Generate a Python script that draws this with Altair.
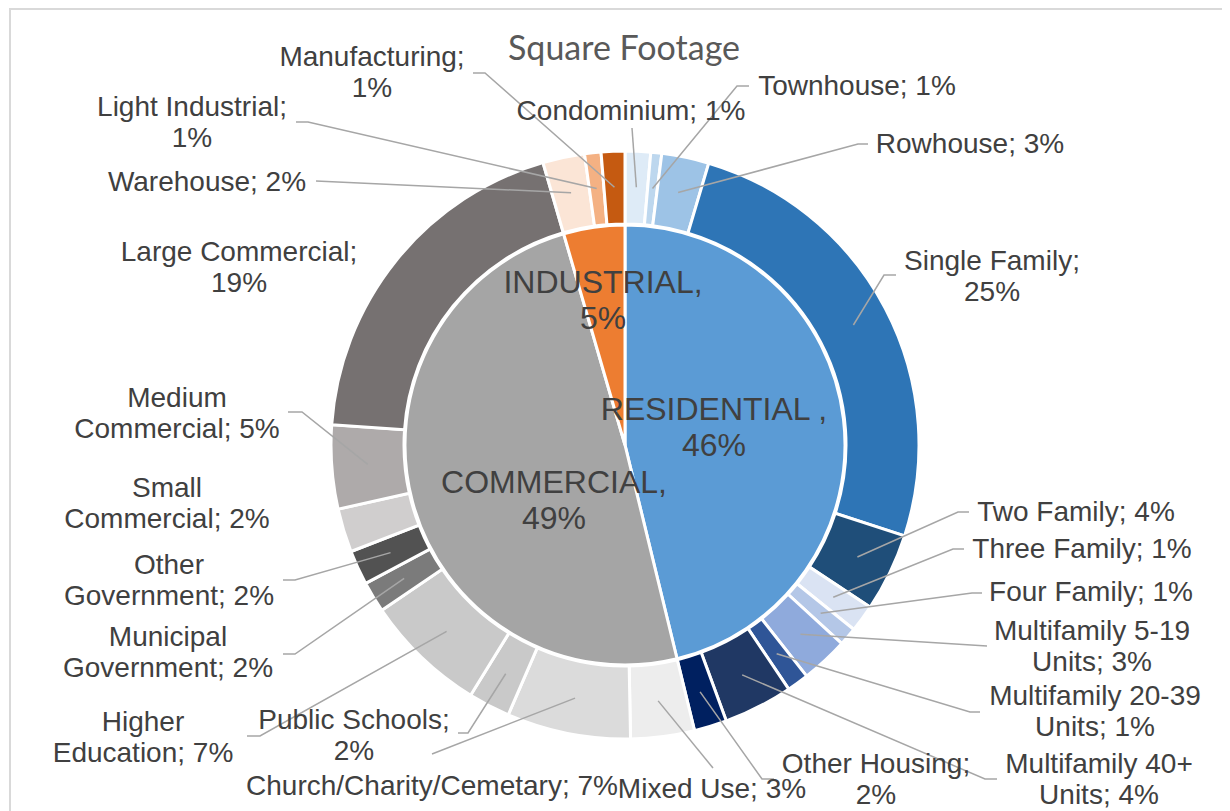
import math
import altair as alt
import pandas as pd

# ---------------- data (percent of total square footage) ----------------
group_names = ["Residential", "Commercial", "Industrial"]
group_values = [46.2, 49.3, 4.5]
group_labels = ["RESIDENTIAL ,\n46%", "COMMERCIAL,\n49%", "INDUSTRIAL,\n5%"]

categories = [
    "Condominium", "Townhouse", "Rowhouse", "Single Family", "Two Family",
    "Three Family", "Four Family", "Multifamily 5-19 Units",
    "Multifamily 20-39 Units", "Multifamily 40+ Units", "Other Housing",
    "Mixed Use", "Church/Charity/Cemetary", "Public Schools",
    "Higher Education", "Municipal Government", "Other Government",
    "Small Commercial", "Medium Commercial", "Large Commercial",
    "Warehouse", "Light Industrial", "Manufacturing",
]
category_values = [
    1.4, 0.6, 2.6, 25.4, 4.3, 1.5, 1.0, 2.6, 1.2, 3.8, 1.8,
    3.5, 6.8, 2.3, 6.7, 1.7, 1.9, 2.4, 4.6, 19.4,
    2.3, 0.9, 1.3,
]
category_labels = [
    "Condominium; 1%", "Townhouse; 1%", "Rowhouse; 3%", "Single Family;\n25%",
    "Two Family; 4%", "Three Family; 1%", "Four Family; 1%",
    "Multifamily 5-19\nUnits; 3%", "Multifamily 20-39\nUnits; 1%",
    "Multifamily 40+\nUnits; 4%", "Other Housing;\n2%", "Mixed Use; 3%",
    "Church/Charity/Cemetary; 7%", "Public Schools;\n2%", "Higher\nEducation; 7%",
    "Municipal\nGovernment; 2%", "Other\nGovernment; 2%", "Small\nCommercial; 2%",
    "Medium\nCommercial; 5%", "Large Commercial;\n19%", "Warehouse; 2%",
    "Light Industrial;\n1%", "Manufacturing;\n1%",
]
title_text = "Square Footage"

# ---------------- styles ----------------
group_colors = ["#5B9BD5", "#A5A5A5", "#ED7D31"]
category_colors = [
    "#DEEBF7", "#BDD7EE", "#9DC3E6", "#2E75B6", "#1F4E79", "#DAE3F3",
    "#B4C7E7", "#8FAADC", "#2F5597", "#203864", "#002060",
    "#EDEDED", "#DBDBDB", "#C9C9C9", "#C9C9C9", "#7B7B7B", "#525252",
    "#D0CECE", "#AEAAAA", "#767171",
    "#FBE5D6", "#F4B183", "#C55A11",
]
TEXT_COLOR = "#404040"
LINE_COLOR = "#A6A6A6"
FONT = "Liberation Sans"

# ---------------- layout (page pixel coordinates) ----------------
W, H = 1214, 803
X0, Y0 = 8, 8
CX, CY = 625, 445
PIE_R = 220
RING_R0, RING_R1 = 221, 294
ANCHOR_R = 258

# position of the first text line of each label
group_label_pos = [(714, 410), (554, 483), (603, 283)]
category_label_pos = [
    (631, 112), (857, 87), (970, 145), (992, 262), (1076, 513),
    (1082, 550), (1091, 593), (1092, 632), (1095, 697), (1099, 765),
    (876, 765), (712, 790), (432, 787), (354, 721), (143, 723),
    (168, 638), (169, 566), (167, 489), (177, 399), (239, 253),
    (207, 183), (192, 108), (372, 58),
]
leader_paths = [
    [(632, 128)], [(737, 86), (749, 86)], [(858, 144), (868, 144)],
    [(884, 275), (896, 275)], [(958, 512), (969, 512)],
    [(953, 549), (964, 549)], [(972, 593), (982, 593)], [(987, 646)],
    [(970, 712), (980, 712)], [(985, 779), (997, 779)],
    [(762, 779), (774, 779)], [(713, 768)], [(432, 754)],
    [(468, 733), (458, 733)], [(260, 736), (247, 736)],
    [(295, 654), (283, 654)], [(295, 580), (283, 580)], [],
    [(302, 412), (288, 412)], [],
    [(316, 181)], [(308, 122), (296, 122)], [(485, 73), (473, 73)],
]
title_pos = (624, 50)

# ---------------- tables ----------------
inner = pd.DataFrame({
    "name": group_names, "value": group_values, "color": group_colors,
    "idx": range(len(group_names)),
})
outer = pd.DataFrame({
    "name": categories, "value": category_values, "color": category_colors,
    "idx": range(len(categories)),
})

total = outer["value"].sum()
cum_end = outer["value"].cumsum()
mid_angle = (cum_end - outer["value"] / 2) / total * 2 * math.pi
outer["ax"] = CX + ANCHOR_R * mid_angle.map(math.sin)
outer["ay"] = CY - ANCHOR_R * mid_angle.map(math.cos)

line_rows = []
for i, name in enumerate(categories):
    path = leader_paths[i]
    if not path:
        continue
    line_rows.append({"name": name, "seq": 0, "px": outer["ax"][i], "py": outer["ay"][i]})
    for j, (px, py) in enumerate(path):
        line_rows.append({"name": name, "seq": j + 1, "px": px, "py": py})
lines = pd.DataFrame(line_rows)

cat_text = pd.DataFrame({
    "label": category_labels,
    "px": [p[0] for p in category_label_pos],
    "py": [p[1] for p in category_label_pos],
})
grp_text = pd.DataFrame({
    "label": group_labels,
    "px": [p[0] for p in group_label_pos],
    "py": [p[1] for p in group_label_pos],
})
title_df = pd.DataFrame({"label": [title_text], "px": [title_pos[0]], "py": [title_pos[1]]})

xs = alt.Scale(domain=[X0, X0 + W], nice=False, zero=False)
ys = alt.Scale(domain=[Y0, Y0 + H], nice=False, zero=False, reverse=True)

def X(f):
    return alt.X(f"{f}:Q", scale=xs, axis=None)

def Y(f):
    return alt.Y(f"{f}:Q", scale=ys, axis=None)

border = alt.Chart(title_df).mark_rect(
    filled=False, stroke="#D9D9D9", strokeWidth=2
).encode(
    x=alt.value(2), x2=alt.value(W + 40), y=alt.value(1), y2=alt.value(H + 40)
)

pie = alt.Chart(inner).mark_arc(
    outerRadius=PIE_R, stroke="white", strokeWidth=3
).encode(
    theta=alt.Theta("value:Q", stack=True),
    color=alt.Color("color:N", scale=None),
    order=alt.Order("idx:Q", sort="ascending"),
    x=alt.value(CX - X0), y=alt.value(CY - Y0),
)

ring = alt.Chart(outer).mark_arc(
    innerRadius=RING_R0, outerRadius=RING_R1, stroke="white", strokeWidth=3
).encode(
    theta=alt.Theta("value:Q", stack=True),
    color=alt.Color("color:N", scale=None),
    order=alt.Order("idx:Q", sort="ascending"),
    x=alt.value(CX - X0), y=alt.value(CY - Y0),
)

leaders = alt.Chart(lines).mark_line(
    color=LINE_COLOR, strokeWidth=1.5
).encode(
    x=X("px"), y=Y("py"), detail="name:N", order="seq:Q",
)

cat_labels = alt.Chart(cat_text).mark_text(
    font=FONT, fontSize=28, color=TEXT_COLOR, align="center",
    baseline="middle", lineBreak="\n", lineHeight=31,
).encode(x=X("px"), y=Y("py"), text="label:N")

grp_labels = alt.Chart(grp_text).mark_text(
    font=FONT, fontSize=32, color=TEXT_COLOR, align="center",
    baseline="middle", lineBreak="\n", lineHeight=36,
).encode(x=X("px"), y=Y("py"), text="label:N")

title = alt.Chart(title_df).mark_text(
    font="Lato", fontSize=34, color="#595959", align="center", baseline="middle",
).encode(x=X("px"), y=Y("py"), text="label:N")

chart = alt.layer(
    border, pie, ring, leaders, cat_labels, grp_labels, title
).properties(
    width=W, height=H, padding=0,
    autosize=alt.AutoSizeParams(type="none"),
).configure_view(stroke=None)

chart.save("out.html", embed_options={"renderer": "svg", "actions": False})
